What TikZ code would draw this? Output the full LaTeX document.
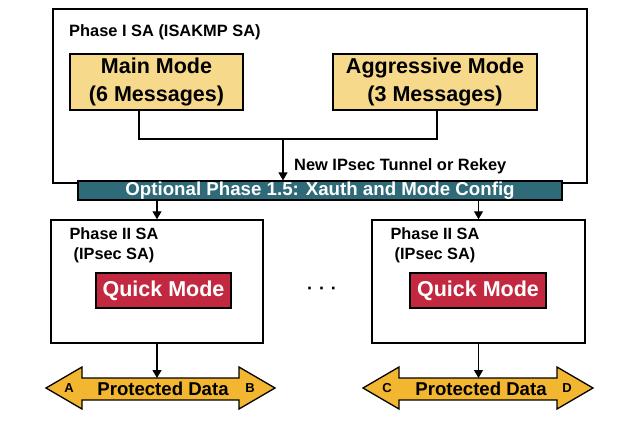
\documentclass[tikz,border=0pt]{standalone}
\usepackage{fontspec}
\setmainfont{Liberation Sans}
\usetikzlibrary{positioning,arrows.meta}
\definecolor{ModeGold}{HTML}{F7D98B}
\definecolor{BarTeal}{HTML}{2E6A78}
\definecolor{QuickRed}{HTML}{C22840}
\definecolor{DataGold}{HTML}{F2B630}
\begin{document}
\begin{tikzpicture}[x=1pt,y=-1pt,
    every node/.style={font=\bfseries, inner sep=0pt},
    frame/.style={draw=black, line width=1.5pt, fill=white},
    modebox/.style={draw=black, line width=1.5pt, fill=ModeGold, align=center,
      minimum height=56pt, font=\bfseries\fontsize{21.5}{28}\selectfont},
    quickbox/.style={draw=black, line width=1.5pt, fill=QuickRed, text=white,
      minimum height=35pt, font=\bfseries\fontsize{21.5}{26}\selectfont},
    salabel/.style={align=center, font=\bfseries\fontsize{16.3}{20}\selectfont},
    datatext/.style={font=\bfseries\fontsize{18.6}{22}\selectfont},
    endtext/.style={font=\bfseries\fontsize{13}{15}\selectfont},
    link/.style={line width=1.3pt, -{Triangle[length=8pt,width=9pt]}}]
  \useasboundingbox (0,0) rectangle (631,421);
  \node[frame, minimum width=534pt, minimum height=174pt] (phaseone) at (320,96) {};
  \node[anchor=west, font=\bfseries\fontsize{16.4}{20}\selectfont] (phaseonelbl) at (69,32) {Phase I SA (ISAKMP SA)};
  \node[modebox, minimum width=173pt] (main) at (156.5,82) {Main Mode\\(6 Messages)};
  \node[modebox, minimum width=204pt] (aggr) at (435,82) {Aggressive Mode\\(3 Messages)};
  \coordinate (mmfoot) at (139,110);
  \coordinate (amfoot) at (437,110);
  \coordinate (junction) at (283,139);
  \draw[line width=1.3pt] (mmfoot) |- (junction) -| (amfoot);
  \node[draw=black, line width=1.2pt, fill=BarTeal, text=white, minimum width=484pt, minimum height=19pt,
    font=\bfseries\fontsize{18.7}{20}\selectfont] (optbar) at (320,190.5) {Optional Phase 1.5: Xauth and Mode Config};
  \draw[link] (junction) -- (junction |- optbar.north);
  \node[anchor=west, font=\bfseries\fontsize{16.4}{20}\selectfont] (rekey) at (294,166) {New IPsec Tunnel or Rekey};
  \node[frame, minimum width=212pt, minimum height=123pt] (leftsa) at (157,281.5) {};
  \node[frame, minimum width=213pt, minimum height=123pt] (rightsa) at (478.5,281.5) {};
  \draw[link] (leftsa.north |- optbar.south) -- (leftsa.north);
  \draw[link] (rightsa.north |- optbar.south) -- (rightsa.north);
  \node[salabel] (leftlbl) at (114,245) {Phase II SA\\(IPsec SA)};
  \node[salabel] (rightlbl) at (435,245) {Phase II SA\\(IPsec SA)};
  \node[quickbox, minimum width=135pt] (leftqm) at (163.5,290.5) {Quick Mode};
  \node[quickbox, minimum width=136pt] (rightqm) at (478,290.5) {Quick Mode};
  \node[font=\bfseries\fontsize{18}{20}\selectfont] (dots) at (322,291) {·\,\,·\,\,·};
  \filldraw[fill=DataGold, draw=black, line width=1.3pt, line join=miter]
    (46,388) -- (82,367) -- (82,378) -- (239,378) -- (239,367) -- (275,388)
    -- (239,409) -- (239,400) -- (82,400) -- (82,409) -- cycle;
  \filldraw[fill=DataGold, draw=black, line width=1.3pt, line join=miter]
    (363,388) -- (399,367) -- (399,378) -- (557,378) -- (557,367) -- (593,388)
    -- (557,409) -- (557,400) -- (399,400) -- (399,409) -- cycle;
  \coordinate (leftdata) at (157,378);
  \coordinate (rightdata) at (478.5,378);
  \draw[link] (leftsa.south) -- (leftdata);
  \draw[link] (rightsa.south) -- (rightdata);
  \node[datatext] (leftpd) at (163,388.5) {Protected Data};
  \node[endtext] (enda) at (69,388.5) {A};
  \node[endtext] (endb) at (250,388.5) {B};
  \node[datatext] (rightpd) at (481,388.5) {Protected Data};
  \node[endtext] (endc) at (387,388.5) {C};
  \node[endtext] (endd) at (567,388.5) {D};
\end{tikzpicture}
\end{document}
